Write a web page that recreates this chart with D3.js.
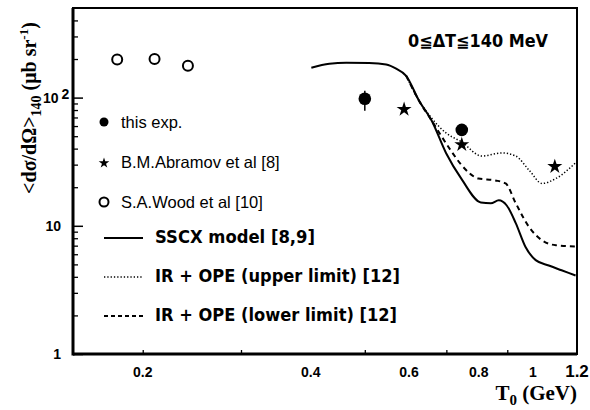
<!DOCTYPE html>
<html>
<head>
<meta charset="utf-8">
<script src="https://cdn.jsdelivr.net/npm/d3@7"></script>
<style>
  body { margin: 0; background: #fff; }
  svg { display: block; }
</style>
</head>
<body>
<div id="chart"></div>
<script>
// tick marks and labels (the figure's labels don't sit on its tick marks)
const xTickMarks = [0.2, 0.3, 0.5, 0.7, 0.9];
const xTickLabels = [0.2, 0.4, 0.6, 0.8, 1, 1.2];
const yDecades = [1, 10, 100];

// this experiment
const expT = [0.5, 0.746];
const expVal = [98, 56];
const expLo = [79, 52];
const expHi = [113, 60];

// B.M.Abramov et al
const abrT = [0.588, 0.746, 1.095];
const abrVal = [81, 43, 29];

// S.A.Wood et al
const woodT = [0.18, 0.21, 0.241];
const woodVal = [198, 200, 177];

// SSCX model
const sscxT = [0.401, 0.432, 0.463, 0.509, 0.546, 0.569, 0.593, 0.625, 0.659, 0.699, 0.746, 0.807, 0.841, 0.869, 0.898, 0.932, 0.971, 1.012, 1.068, 1.126, 1.193];
const sscxVal = [171, 184, 187, 186, 181, 168, 148, 95, 66, 37, 23, 15.2, 15.0, 15.8, 14.4, 10.5, 6.8, 5.4, 4.9, 4.5, 4.1];

// IR + OPE upper limit
const upT = [0.593, 0.625, 0.659, 0.699, 0.746, 0.810, 0.881, 0.932, 0.986, 1.039, 1.100, 1.193];
const upVal = [148, 95, 69, 53, 45, 35, 37, 35, 27, 21.4, 23.4, 31];

// IR + OPE lower limit
const lowT = [0.593, 0.625, 0.659, 0.713, 0.746, 0.799, 0.857, 0.894, 0.932, 0.986, 1.039, 1.100, 1.193];
const lowVal = [148, 95, 66, 38.7, 29.6, 23.4, 22.6, 21.4, 15.0, 9.7, 7.7, 7.05, 6.9];

const W = 590, H = 410;
const mLeft = 73, mRight = 577, mTop = 8, mBottom = 354;

const svg = d3.select("#chart").append("svg")
  .attr("width", W).attr("height", H);

const x = d3.scaleLog().domain([0.15, 1.2]).range([mLeft, mRight]);
const y = d3.scaleLog().domain([1, 500]).range([mBottom, mTop]);

// frame
svg.append("rect")
  .attr("x", mLeft).attr("y", mTop)
  .attr("width", mRight - mLeft).attr("height", mBottom - mTop)
  .attr("fill", "none").attr("stroke", "#000").attr("stroke-width", 2);
svg.append("line").attr("x1", mLeft).attr("x2", mLeft).attr("y1", mTop).attr("y2", mBottom + 1.5)
  .attr("stroke", "#000").attr("stroke-width", 3);
svg.append("line").attr("x1", mLeft).attr("x2", mRight).attr("y1", mBottom).attr("y2", mBottom)
  .attr("stroke", "#000").attr("stroke-width", 3);

// y ticks
const yMinor = [];
yDecades.forEach(d => {
  for (let k = 2; k <= 9; k++) if (k * d < 500) yMinor.push(k * d);
});
svg.append("g").attr("transform", `translate(${mLeft},0)`)
  .call(d3.axisRight(y).tickValues(yMinor).tickSize(5).tickFormat(""))
  .call(g => g.select(".domain").remove())
  .selectAll("line").attr("stroke-width", 1.3);
svg.append("g").attr("transform", `translate(${mLeft},0)`)
  .call(d3.axisRight(y).tickValues(yDecades).tickSize(10).tickFormat(""))
  .call(g => g.select(".domain").remove())
  .selectAll("line").attr("stroke-width", 1.5);

// x ticks
svg.append("g").attr("transform", `translate(0,${mBottom})`)
  .call(d3.axisTop(x).tickValues(xTickMarks).tickSize(4).tickFormat(""))
  .call(g => g.select(".domain").remove())
  .selectAll("line").attr("stroke-width", 1.3);

// tick labels
const tickFont = "'Liberation Sans', Arial, sans-serif";
svg.selectAll(".xlab").data(xTickLabels).enter().append("text")
  .attr("x", d => x(d)).attr("y", 377)
  .attr("text-anchor", "middle")
  .attr("font-family", tickFont).attr("font-weight", "bold")
  .attr("font-size", d => d === 1.2 ? 17 : 14)
  .text(d => d);

yDecades.forEach(d => {
  const t = svg.append("text")
    .attr("y", y(d) + 5)
    .attr("font-family", tickFont).attr("font-weight", "bold").attr("font-size", 14);
  if (d === 100) {
    t.attr("x", 43);
    t.append("tspan").text("10");
    t.append("tspan").attr("dx", 3).attr("dy", -4).text("2");
  } else {
    t.attr("x", 61).attr("text-anchor", "end").text(d);
  }
});

// axis titles
const titleFont = "'Liberation Serif', 'Times New Roman', serif";
const xt = svg.append("text")
  .attr("x", mRight).attr("y", 400).attr("text-anchor", "end")
  .attr("font-family", titleFont).attr("font-weight", "bold").attr("font-size", 21);
xt.append("tspan").text("T");
xt.append("tspan").attr("dy", 5).attr("font-size", 15).text("0");
xt.append("tspan").attr("dy", -5).text(" (GeV)");

const yt = svg.append("text")
  .attr("transform", "translate(36,108) rotate(-90)")
  .attr("text-anchor", "middle")
  .attr("font-family", titleFont).attr("font-weight", "bold").attr("font-size", 20);
yt.append("tspan").text("<dσ/dΩ>");
yt.append("tspan").attr("dy", 5).attr("font-size", 14).text("140");
yt.append("tspan").attr("dy", -5).text(" (μb sr");
yt.append("tspan").attr("dy", -8).attr("font-size", 13).text("-1");
yt.append("tspan").attr("dy", 8).text(")");

// curves
const line = d3.line()
  .x(d => x(d[0])).y(d => y(d[1]))
  .curve(d3.curveMonotoneX);

const zip = (a, b) => a.map((v, i) => [v, b[i]]);

svg.append("path").datum(zip(upT, upVal))
  .attr("d", line).attr("fill", "none").attr("stroke", "#000")
  .attr("stroke-width", 1.5).attr("stroke-dasharray", "1.3,2");
svg.append("path").datum(zip(lowT, lowVal))
  .attr("d", line).attr("fill", "none").attr("stroke", "#000")
  .attr("stroke-width", 2).attr("stroke-dasharray", "5,4");
svg.append("path").datum(zip(sscxT, sscxVal))
  .attr("d", line).attr("fill", "none").attr("stroke", "#000")
  .attr("stroke-width", 2);

// data points
svg.selectAll(".err").data(expT).enter().append("line")
  .attr("x1", d => x(d)).attr("x2", d => x(d))
  .attr("y1", (d, i) => y(expLo[i])).attr("y2", (d, i) => y(expHi[i]))
  .attr("stroke", "#000").attr("stroke-width", 1.5);
svg.selectAll(".exp").data(expT).enter().append("circle")
  .attr("cx", d => x(d)).attr("cy", (d, i) => y(expVal[i]))
  .attr("r", 6.3).attr("fill", "#000");

const star = d3.symbol().type(d3.symbolStar);
svg.selectAll(".abr").data(abrT).enter().append("path")
  .attr("transform", (d, i) => `translate(${x(d)},${y(abrVal[i])})`)
  .attr("d", star.size(70)).attr("fill", "#000");

svg.selectAll(".wood").data(woodT).enter().append("circle")
  .attr("cx", d => x(d)).attr("cy", (d, i) => y(woodVal[i]))
  .attr("r", 5).attr("fill", "none").attr("stroke", "#000").attr("stroke-width", 2);

// legend, data sets
const legFont = "'Liberation Sans', Arial, sans-serif";
svg.append("circle").attr("cx", 104).attr("cy", 122).attr("r", 4.5).attr("fill", "#000");
svg.append("path").attr("transform", "translate(104,163)")
  .attr("d", star.size(35)).attr("fill", "#000");
svg.append("circle").attr("cx", 104).attr("cy", 202).attr("r", 4.5)
  .attr("fill", "none").attr("stroke", "#000").attr("stroke-width", 2);
[["this exp.", 128], ["B.M.Abramov et al [8]", 168], ["S.A.Wood et al [10]", 208]].forEach(d => {
  svg.append("text").attr("x", 121).attr("y", d[1])
    .attr("font-family", legFont).attr("font-size", 16.5).text(d[0]);
});

// legend, curves
const curveLeg = [
  { y: 238, dash: null, w: 2, label: "SSCX model [8,9]", len: 160 },
  { y: 277, dash: "1.3,2", w: 1.5, label: "IR + OPE (upper limit) [12]", len: 245 },
  { y: 316, dash: "4,3", w: 2, label: "IR + OPE (lower limit) [12]", len: 242 }
];
curveLeg.forEach(d => {
  svg.append("line").attr("x1", 104).attr("x2", 143).attr("y1", d.y).attr("y2", d.y)
    .attr("stroke", "#000").attr("stroke-width", d.w)
    .attr("stroke-dasharray", d.dash);
  svg.append("text").attr("x", 155).attr("y", d.y + 5)
    .attr("font-family", "'DejaVu Sans', sans-serif").attr("font-weight", "bold")
    .attr("font-size", 18)
    .attr("textLength", d.len).attr("lengthAdjust", "spacingAndGlyphs")
    .text(d.label);
});

svg.append("text").attr("x", 408).attr("y", 47)
  .attr("font-family", "'DejaVu Sans', sans-serif").attr("font-weight", "bold")
  .attr("font-size", 17)
  .attr("textLength", 140).attr("lengthAdjust", "spacingAndGlyphs")
  .text("0≦ΔT≦140 MeV");
</script>
</body>
</html>
